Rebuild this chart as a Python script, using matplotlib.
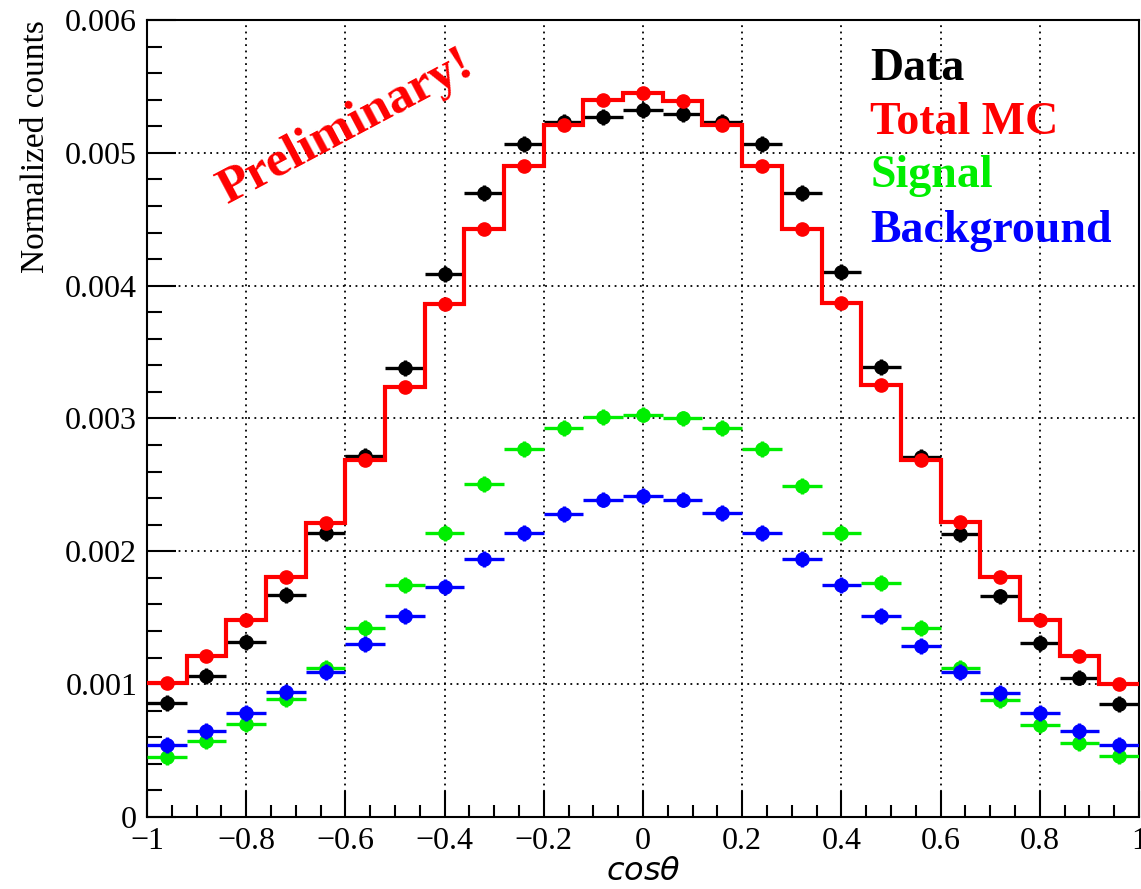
import numpy as np
import matplotlib
matplotlib.use("Agg")
import matplotlib.pyplot as plt
from matplotlib.ticker import MultipleLocator

# bin edges of cos(theta), 25 bins
edges = np.linspace(-1, 1, 26)
centers = 0.5 * (edges[:-1] + edges[1:])
halfw = 0.5 * (edges[1] - edges[0])

data = [0.00086, 0.00106, 0.00132, 0.00167, 0.00214, 0.00272, 0.00338, 0.00409,
        0.00470, 0.00507, 0.00523, 0.00527, 0.00532, 0.00529, 0.00523, 0.00507,
        0.00470, 0.00410, 0.00339, 0.00271, 0.00213, 0.00166, 0.00131, 0.00105,
        0.00085]
total_mc = [0.00101, 0.00121, 0.00148, 0.00181, 0.00221, 0.00269, 0.00324, 0.00386,
            0.00443, 0.00490, 0.00521, 0.00540, 0.00545, 0.00539, 0.00521, 0.00490,
            0.00443, 0.00387, 0.00325, 0.00269, 0.00222, 0.00181, 0.00148, 0.00121,
            0.00100]
signal = [0.00045, 0.00057, 0.00070, 0.00089, 0.00112, 0.00142, 0.00175, 0.00214,
          0.00251, 0.00277, 0.00293, 0.00301, 0.00303, 0.00300, 0.00293, 0.00277,
          0.00249, 0.00214, 0.00176, 0.00142, 0.00112, 0.00088, 0.00069, 0.00056,
          0.00046]
background = [0.00054, 0.00065, 0.00078, 0.00094, 0.00109, 0.00130, 0.00151, 0.00173,
              0.00194, 0.00214, 0.00228, 0.00239, 0.00242, 0.00239, 0.00229, 0.00214,
              0.00194, 0.00175, 0.00151, 0.00129, 0.00109, 0.00093, 0.00078, 0.00065,
              0.00054]
yerr = 0.00006

labels = ["Data", "Total MC", "Signal", "Background"]
colors = ["black", "#ff0000", "#00ee00", "#0000ff"]

serif = ["Liberation Serif", "DejaVu Serif"]

fig = plt.figure(figsize=(11.41, 8.89), dpi=100)
ax = fig.add_axes([0.1288, 0.081, 0.8694, 0.8965])

ekw = dict(fmt="o", markersize=9.5, elinewidth=2.4, capsize=0)
ax.errorbar(centers, signal, xerr=halfw, yerr=yerr, color=colors[2], zorder=3, **ekw)
ax.errorbar(centers, background, xerr=halfw, yerr=yerr, color=colors[3], zorder=4, **ekw)
ax.errorbar(centers, data, xerr=halfw, yerr=yerr, color=colors[0], zorder=5, **ekw)
ax.stairs(total_mc, edges, baseline=None, color=colors[1], linewidth=3, zorder=6)
ax.plot(centers, total_mc, "o", color=colors[1], markersize=9.5, zorder=7)

ax.set_xlim(-1, 1)
ax.set_ylim(0, 0.006)
ax.xaxis.set_minor_locator(MultipleLocator(0.05))
ax.yaxis.set_minor_locator(MultipleLocator(0.0002))

ax.set_xticks([-1, -0.8, -0.6, -0.4, -0.2, 0, 0.2, 0.4, 0.6, 0.8, 1])
ax.set_xticklabels(["\u22121", "\u22120.8", "\u22120.6", "\u22120.4", "\u22120.2",
                    "0", "0.2", "0.4", "0.6", "0.8", "1"])
ax.set_yticks([0, 0.001, 0.002, 0.003, 0.004, 0.005, 0.006])
ax.set_yticklabels(["0", "0.001", "0.002", "0.003", "0.004", "0.005", "0.006"])

ax.tick_params(axis="both", which="both", direction="in", top=False, right=False, width=1.5)
ax.tick_params(axis="y", which="major", length=21, pad=7)
ax.tick_params(axis="y", which="minor", length=11)
ax.tick_params(axis="x", which="major", length=19, pad=7)
ax.tick_params(axis="x", which="minor", length=9)
for lab in ax.get_xticklabels() + ax.get_yticklabels():
    lab.set_fontfamily(serif)
    lab.set_fontsize(23)

for s in ax.spines.values():
    s.set_linewidth(1.5)

ax.grid(True, which="major", linestyle=(0, (1, 2.5)), color="black", linewidth=1.3, zorder=0)
ax.set_axisbelow(True)

ax.set_ylabel("Normalized counts", family=serif, fontsize=24, loc="top", labelpad=10)
ax.set_xlabel(r"$\it{cos\theta}$", fontsize=23, labelpad=0)

ax.text(-0.60, 0.00519, "Preliminary!", color="#ff0000", family=serif, fontweight="bold",
        fontsize=37, rotation=28, ha="center", va="center", rotation_mode="anchor")

ys = [0.9247, 0.857, 0.7905, 0.7215]
for lab, c, yy in zip(labels, colors, ys):
    ax.text(0.729, yy, lab, color=c, family=serif, fontweight="bold", fontsize=33,
            transform=ax.transAxes, va="baseline", ha="left")

fig.savefig("out.png", dpi=100)
